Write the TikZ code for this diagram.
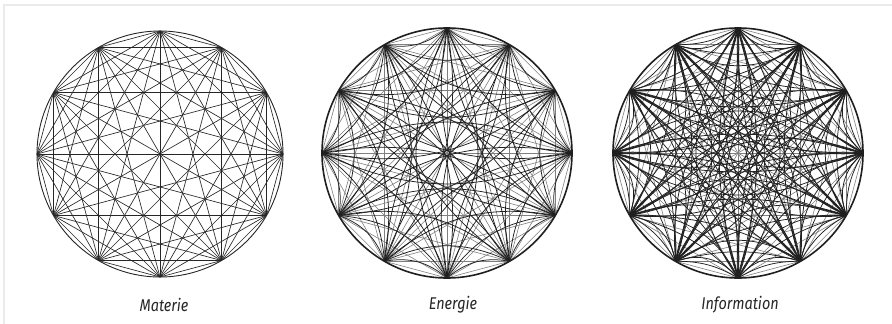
\documentclass[tikz,border=0pt]{standalone}
\usepackage{fontspec}
\setmainfont{Fira Sans}
\usetikzlibrary{calc}
\tikzset{
  chord/.style={line width=0.65pt, black!85},
  grid/.style={line width=0.6pt, black!50},
  arcline/.style={line width=0.75pt, black!88},
  rim/.style={line width=0.9pt, black!85},
  thickrim/.style={line width=1.6pt, black!88},
  lbl/.style={font=\itshape\fontsize{17}{20}\selectfont, text=black!85, inner sep=0pt, xscale=0.85}
}
% #1 prefix, #2 center, #3 radius, #4 n
\newcommand{\mypoints}[4]{%
  \pgfmathtruncatemacro{\nm}{#4-1}%
  \foreach \i in {0,...,\nm}{\coordinate (#1\i) at ($(#2)+({90+360*\i/#4}:#3)$);}%
}
% #1 prefix, #2 n-1, #3 style, #4 path operation
\newcommand{\myedges}[4]{%
  \foreach \i in {0,...,#2}{\foreach \j in {0,...,#2}{\ifnum\j>\i \draw[#3] (#1\i) #4 (#1\j);\fi}}%
}
% inward bending arcs: #1 prefix, #2 bend angle
\newcommand{\myarcs}[2]{%
  \foreach \i in {0,...,11}{\foreach \j in {0,...,11}{%
    \ifnum\j>\i
      \pgfmathtruncatemacro{\dd}{\j-\i}%
      \ifnum\dd<6 \draw[arcline] (#1\i) to[bend right=#2] (#1\j);\fi
      \ifnum\dd>6 \draw[arcline] (#1\i) to[bend left=#2] (#1\j);\fi
      \ifnum\dd=6 \draw[arcline] (#1\i) to[bend left=#2] (#1\j); \draw[arcline] (#1\i) to[bend right=#2] (#1\j);\fi
    \fi}}%
}
\begin{document}
\begin{tikzpicture}[x=1pt,y=-1pt]
\useasboundingbox (0,0) rectangle (892,324);
\fill[white] (0,0) rectangle (892,324);
\draw[black!8,line width=1.2pt] (4,324) -- (4,5) -- (892,5);
\coordinate (cM) at (160,154);
\coordinate (cE) at (447,153);
\coordinate (cI) at (738,153);
% Materie
\mypoints{m}{cM}{123}{12}
\myedges{m}{11}{chord}{--}
\draw[rim] (cM) circle[radius=123];
% Energie
\mypoints{e}{cE}{125}{12}
\myedges{e}{11}{grid}{--}
\myarcs{e}{25}
\draw[thickrim] (cE) circle[radius=125];
% Information
\mypoints{f}{cI}{125}{12}
\myedges{f}{11}{grid}{--}
\myarcs{f}{15}
\myarcs{f}{35}
\draw[thickrim] (cI) circle[radius=125];
\node[lbl] (tM) at (164,305) {Materie};
\node[lbl] (tE) at (453,305) {Energie};
\node[lbl] (tI) at (740,305) {Information};
\end{tikzpicture}
\end{document}
